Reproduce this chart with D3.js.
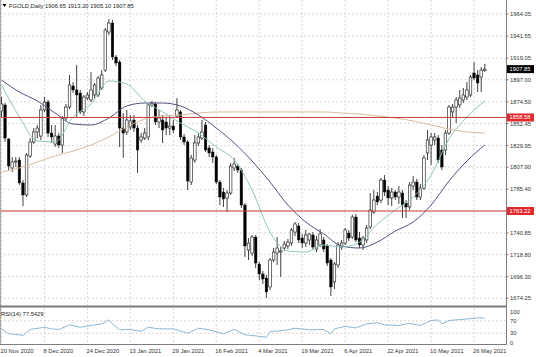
<!DOCTYPE html>
<html><head><meta charset="utf-8">
<script src="https://cdn.jsdelivr.net/npm/d3@7"></script>
<style>html,body{margin:0;padding:0;background:#fff;}svg{display:block;}text{font-family:"Liberation Sans",Arial,sans-serif;}</style>
</head><body><svg id="c" width="536" height="357"></svg>
<script>
const opens=[1865.2,1871.3,1836.6,1807.1,1813.2,1815.2,1791.8,1779.6,1819.3,1833.6,1843.8,1839.7,1866.2,1874.3,1842.7,1831.5,1839.7,1830.5,1858.0,1869.2,1890.7,1886.6,1883.5,1864.2,1878.4,1876.4,1881.5,1881.5,1888.6,1906.9,1945.7,1954.9,1920.2,1915.1,1847.8,1843.8,1848.9,1856.0,1847.8,1835.6,1837.6,1838.7,1871.3,1872.3,1854.0,1856.0,1854.0,1847.8,1849.9,1860.1,1864.2,1838.7,1833.6,1792.8,1815.2,1832.6,1837.6,1850.9,1827.5,1823.4,1818.3,1792.8,1782.6,1776.5,1781.6,1807.1,1809.1,1805.0,1769.3,1723.5,1720.4,1736.7,1709.2,1699.0,1694.9,1685.8,1713.3,1720.4,1721.4,1725.5,1727.6,1730.6,1741.8,1748.0,1735.7,1730.6,1733.7,1738.8,1724.5,1728.6,1733.7,1727.6,1713.3,1690.9,1708.2,1726.5,1730.6,1740.8,1736.7,1757.1,1735.7,1728.6,1733.7,1746.9,1762.2,1778.5,1774.4,1794.8,1784.6,1776.5,1782.6,1777.5,1781.6,1771.4,1767.3,1788.7,1792.8,1777.5,1786.7,1822.4,1830.5,1835.6,1837.6,1825.4,1825.4,1842.7,1864.2,1869.2,1871.3,1876.4,1879.4,1881.5,1903.9,1901.9,1899.8,1906.65];
const highs=[1879.4,1873.3,1837.6,1818.3,1818.3,1818.3,1794.8,1822.4,1837.6,1847.8,1850.9,1871.3,1879.4,1876.4,1850.9,1850.9,1842.7,1860.1,1872.3,1901.9,1894.7,1912.1,1886.6,1881.5,1884.5,1904.9,1893.7,1900.9,1906.9,1949.8,1958.9,1957.9,1922.2,1917.2,1863.1,1866.2,1861.1,1861.1,1850.9,1842.7,1847.8,1873.3,1875.4,1874.3,1866.2,1861.1,1859.1,1861.1,1856.0,1878.4,1866.2,1841.7,1835.6,1820.3,1840.7,1842.7,1856.0,1854.0,1830.5,1827.5,1820.3,1794.8,1786.7,1784.6,1812.2,1817.3,1811.2,1807.1,1771.4,1735.7,1738.8,1738.8,1711.2,1702.1,1698.0,1715.3,1725.5,1736.7,1726.5,1732.7,1734.7,1745.9,1752.0,1751.0,1739.8,1743.9,1740.8,1741.8,1737.8,1744.9,1736.7,1729.6,1715.3,1711.2,1731.6,1733.7,1745.9,1743.9,1759.2,1760.2,1741.8,1737.8,1749.0,1781.6,1784.6,1782.6,1796.9,1799.9,1788.7,1786.7,1784.6,1788.7,1784.6,1774.4,1792.8,1798.9,1795.9,1790.8,1820.3,1845.8,1842.7,1842.7,1840.7,1830.5,1845.8,1871.3,1872.3,1879.4,1886.6,1888.6,1894.7,1901.9,1915.1,1906.9,1910.0,1913.2];
const lows=[1859.1,1833.6,1805.0,1803.0,1808.1,1789.7,1768.3,1777.5,1817.3,1831.5,1837.6,1835.6,1864.2,1838.7,1832.6,1828.5,1827.5,1822.4,1855.0,1867.2,1883.5,1859.1,1862.1,1860.1,1876.4,1874.3,1878.4,1879.4,1886.6,1904.9,1942.6,1917.2,1911.0,1828.5,1817.3,1840.7,1845.8,1843.8,1802.0,1832.6,1835.6,1835.6,1869.2,1850.9,1847.8,1832.6,1840.7,1840.7,1842.7,1858.0,1835.6,1830.5,1784.6,1789.7,1812.2,1829.5,1835.6,1823.4,1818.3,1812.2,1790.8,1769.3,1767.3,1762.2,1779.6,1804.0,1802.0,1766.3,1716.3,1713.3,1717.4,1705.1,1692.9,1688.8,1674.6,1682.7,1711.2,1708.2,1696.0,1722.5,1724.5,1727.6,1737.8,1730.6,1725.5,1726.5,1728.6,1723.5,1721.4,1726.5,1721.4,1707.2,1676.6,1683.7,1705.1,1723.5,1728.6,1732.7,1734.7,1731.6,1725.5,1723.5,1730.6,1744.9,1760.2,1769.3,1771.4,1778.5,1769.3,1768.3,1774.4,1770.4,1756.1,1756.1,1764.3,1784.6,1774.4,1774.4,1784.6,1815.2,1810.1,1830.5,1812.2,1805.0,1820.3,1840.7,1858.0,1852.9,1868.2,1873.3,1876.4,1879.4,1896.8,1884.5,1884.5,1905.1];
const closes=[1872.3,1837.6,1809.1,1813.2,1814.2,1791.8,1779.6,1820.3,1833.6,1843.8,1847.8,1866.2,1874.3,1842.7,1838.7,1839.7,1830.5,1858.0,1869.2,1891.7,1886.6,1881.5,1864.2,1879.4,1881.5,1886.6,1891.7,1898.8,1901.9,1947.7,1954.9,1920.2,1914.1,1847.8,1842.7,1856.0,1855.0,1847.8,1825.4,1838.7,1842.7,1871.3,1873.3,1854.0,1858.0,1845.8,1847.8,1849.9,1845.8,1866.2,1838.7,1833.6,1793.8,1817.3,1832.6,1838.7,1843.8,1825.4,1822.4,1818.3,1792.8,1777.5,1775.5,1781.6,1809.1,1811.2,1805.0,1769.3,1727.6,1730.6,1736.7,1710.2,1699.0,1693.9,1680.7,1713.3,1721.4,1725.5,1722.5,1729.6,1731.6,1743.9,1750.0,1733.7,1730.6,1738.8,1739.8,1726.5,1733.7,1739.8,1724.5,1710.2,1685.8,1709.2,1728.6,1730.6,1743.9,1735.7,1757.1,1733.7,1728.6,1735.7,1745.9,1764.3,1774.4,1772.4,1794.8,1782.6,1776.5,1782.6,1777.5,1782.6,1769.3,1767.3,1789.7,1792.8,1777.5,1786.7,1817.3,1835.6,1838.7,1838.7,1815.2,1808.1,1842.7,1869.2,1869.2,1876.4,1878.4,1881.5,1886.6,1899.8,1898.8,1893.7,1906.9,1907.85];

const maIdx=[0,5,10,15,20,25,30,35,40,45,50,55,60,65,70,75,80,85,90,95,100,105,110,115,120,125,130,135];
const maFast=[1891.7,1859.1,1834.6,1833.6,1859.1,1872.3,1895.8,1892.7,1875.4,1864.2,1852.9,1842.7,1828.5,1815.2,1784.6,1741.8,1722.5,1721.4,1728.6,1726.5,1731.6,1750.0,1764.3,1777.5,1799.9,1836.6,1859.1,1875.4];
const maMid=[1896.8,1884.5,1875.4,1863.1,1851.9,1850.9,1858.0,1870.3,1873.3,1873.3,1870.3,1861.1,1847.8,1832.6,1814.2,1792.8,1769.3,1752.0,1739.8,1727.6,1725.5,1731.6,1742.8,1752.0,1769.3,1793.8,1814.2,1830.5];
const maSlow=[1803.0,1807.1,1813.2,1819.3,1824.4,1830.5,1838.7,1848.9,1857.0,1860.1,1861.1,1863.1,1864.2,1864.2,1864.2,1864.2,1864.2,1864.2,1864.2,1863.1,1862.1,1860.1,1858.0,1855.0,1850.9,1846.8,1843.8,1842.7];

const rsiIdx=[0,2,4,6,8,12,14,16,19,22,25,28,30,31,33,36,39,41,44,48,52,55,58,62,65,68,72,74,75,79,82,86,90,92,93,96,99,102,105,107,111,114,117,120,122,123,125,130,134,135];
const rsiVal=[44,28,26,23,42,49,44,42,57,49,55,60,73,60,41,42,36,49,44,44,30,46,41,28,42,25,20,17,35,39,46,41,42,28,44,52,47,60,64,57,55,62,55,71,73,60,71,76,80,77.5];

const priceTicks=[1964.05,1941.55,1919.05,1897.00,1874.50,1852.45,1829.95,1807.90,1785.40,1763.35,1740.85,1718.80,1696.30,1674.25];
const dateIdx=[0,12,24,36,48,60,72,84,96,108,120,132];
const dateLabels=["20 Nov 2020","8 Dec 2020","24 Dec 2020","13 Jan 2021","29 Jan 2021","16 Feb 2021","4 Mar 2021","19 Mar 2021","6 Apr 2021","22 Apr 2021","10 May 2021","26 May 2021"];
const rsiTicks=[100,70,30,0];
const hLines=[1858.58,1763.22];
const lastPrice=1907.85;
const header="FGOLD,Daily  1906.65 1913.20 1905.10 1907.85";
const rsiTitle="RSI(14) 77.5429";

const svg=d3.select("#c");
const axisX=506.5, mainBottom=305, rsiTop=308, rsiBottom=344.5;
const x=d3.scaleLinear().domain([0,135]).range([1.5,1.5+3.58*135]);
const y=d3.scaleLinear().domain([1674.25,1964.05]).range([298.3,14]);
const ry=d3.scaleLinear().domain([0,100]).range([342.5,311.5]);
const fs=5.8, tc="#333";

svg.append("rect").attr("width",536).attr("height",357).attr("fill","#fff");
const grid=svg.append("g").attr("stroke","#c9c9c9").attr("stroke-width",0.7).attr("stroke-dasharray","2,2");
priceTicks.forEach(p=>grid.append("line").attr("x1",0).attr("x2",axisX).attr("y1",y(p)).attr("y2",y(p)));
dateIdx.forEach(i=>{
  grid.append("line").attr("x1",x(i)).attr("x2",x(i)).attr("y1",0).attr("y2",mainBottom);
  grid.append("line").attr("x1",x(i)).attr("x2",x(i)).attr("y1",rsiTop).attr("y2",rsiBottom);
});
[70,30].forEach(v=>grid.append("line").attr("x1",0).attr("x2",axisX).attr("y1",ry(v)).attr("y2",ry(v)));

const clip=svg.append("clipPath").attr("id","mc").append("rect").attr("x",0).attr("y",0).attr("width",axisX).attr("height",mainBottom);
const main=svg.append("g").attr("clip-path","url(#mc)");

// candles
const bw=2.6;
const cg=main.append("g");
d3.range(opens.length).forEach(i=>{
  const o=opens[i],c=closes[i],h=highs[i],l=lows[i];
  const up=c>=o;
  cg.append("line").attr("x1",x(i)).attr("x2",x(i)).attr("y1",y(h)).attr("y2",y(l)).attr("stroke","#111").attr("stroke-width",0.8);
  const top=y(Math.max(o,c)), bot=y(Math.min(o,c));
  cg.append("rect").attr("x",x(i)-bw/2).attr("y",top).attr("width",bw).attr("height",Math.max(0.8,bot-top))
    .attr("fill",up?"#fff":"#000").attr("stroke","#111").attr("stroke-width",up?0.6:0.4);
});

// moving averages
const ln=d3.line().x(d=>x(d[0])).y(d=>y(d[1])).curve(d3.curveMonotoneX);
const ma=(vals,col)=>main.append("path").attr("d",ln(maIdx.map((k,j)=>[k,vals[j]]))).attr("fill","none").attr("stroke",col).attr("stroke-width",1);
ma(maSlow,"#d9bc9e");
ma(maMid,"#52527e");
ma(maFast,"#8fc4c0");

// horizontal red lines
hLines.forEach(p=>main.append("line").attr("x1",0).attr("x2",axisX).attr("y1",y(p)).attr("y2",y(p)).attr("stroke","#d23a3a").attr("stroke-width",1));

// RSI
const rl=d3.line().x((d)=>x(d[0])).y(d=>ry(d[1]));
svg.append("path").attr("d",rl(rsiIdx.map((k,j)=>[k,rsiVal[j]]))).attr("fill","none").attr("stroke","#8bb9d6").attr("stroke-width",1);

// frame
svg.append("line").attr("x1",0.5).attr("x2",0.5).attr("y1",0).attr("y2",rsiBottom).attr("stroke","#a8a8a8");
svg.append("line").attr("x1",axisX).attr("x2",axisX).attr("y1",0).attr("y2",rsiBottom).attr("stroke","#7d7d7d");
svg.append("line").attr("x1",0).attr("x2",axisX).attr("y1",306.5).attr("y2",306.5).attr("stroke","#7a7a7a").attr("stroke-width",2);
svg.append("line").attr("x1",0).attr("x2",axisX).attr("y1",rsiBottom).attr("y2",rsiBottom).attr("stroke","#7d7d7d");

// price axis labels
priceTicks.forEach(p=>{
  svg.append("line").attr("x1",axisX).attr("x2",axisX+2).attr("y1",y(p)).attr("y2",y(p)).attr("stroke","#7d7d7d");
  svg.append("text").attr("x",510).attr("y",y(p)).attr("dy","0.35em").attr("font-size",fs).attr("fill",tc).text(p.toFixed(2));
});
rsiTicks.forEach(v=>{
  svg.append("text").attr("x",510).attr("y",ry(v)).attr("dy","0.35em").attr("font-size",fs).attr("fill",tc).text(v);
});
// value labels
const tag=(p,bg)=>{
  svg.append("rect").attr("x",axisX+0.5).attr("y",y(p)-4).attr("width",27).attr("height",8).attr("fill",bg);
  svg.append("text").attr("x",509.5).attr("y",y(p)).attr("dy","0.35em").attr("font-size",fs).attr("fill","#fff").text(p.toFixed(2));
};
hLines.forEach(p=>tag(p,"#e0282d"));
tag(lastPrice,"#000");

// date labels
dateIdx.forEach((k,j)=>svg.append("text").attr("x",x(k)-1).attr("y",352.5).attr("font-size",fs).attr("fill",tc).text(dateLabels[j]));

// header
svg.append("path").attr("d","M2.5,4 L6.5,4 L4.5,7 Z").attr("fill","#000");
svg.append("text").attr("x",9).attr("y",8).attr("font-size",fs).attr("fill","#222").text(header);
svg.append("text").attr("x",1).attr("y",315.5).attr("font-size",fs).attr("fill","#222").text(rsiTitle);
</script></body></html>
